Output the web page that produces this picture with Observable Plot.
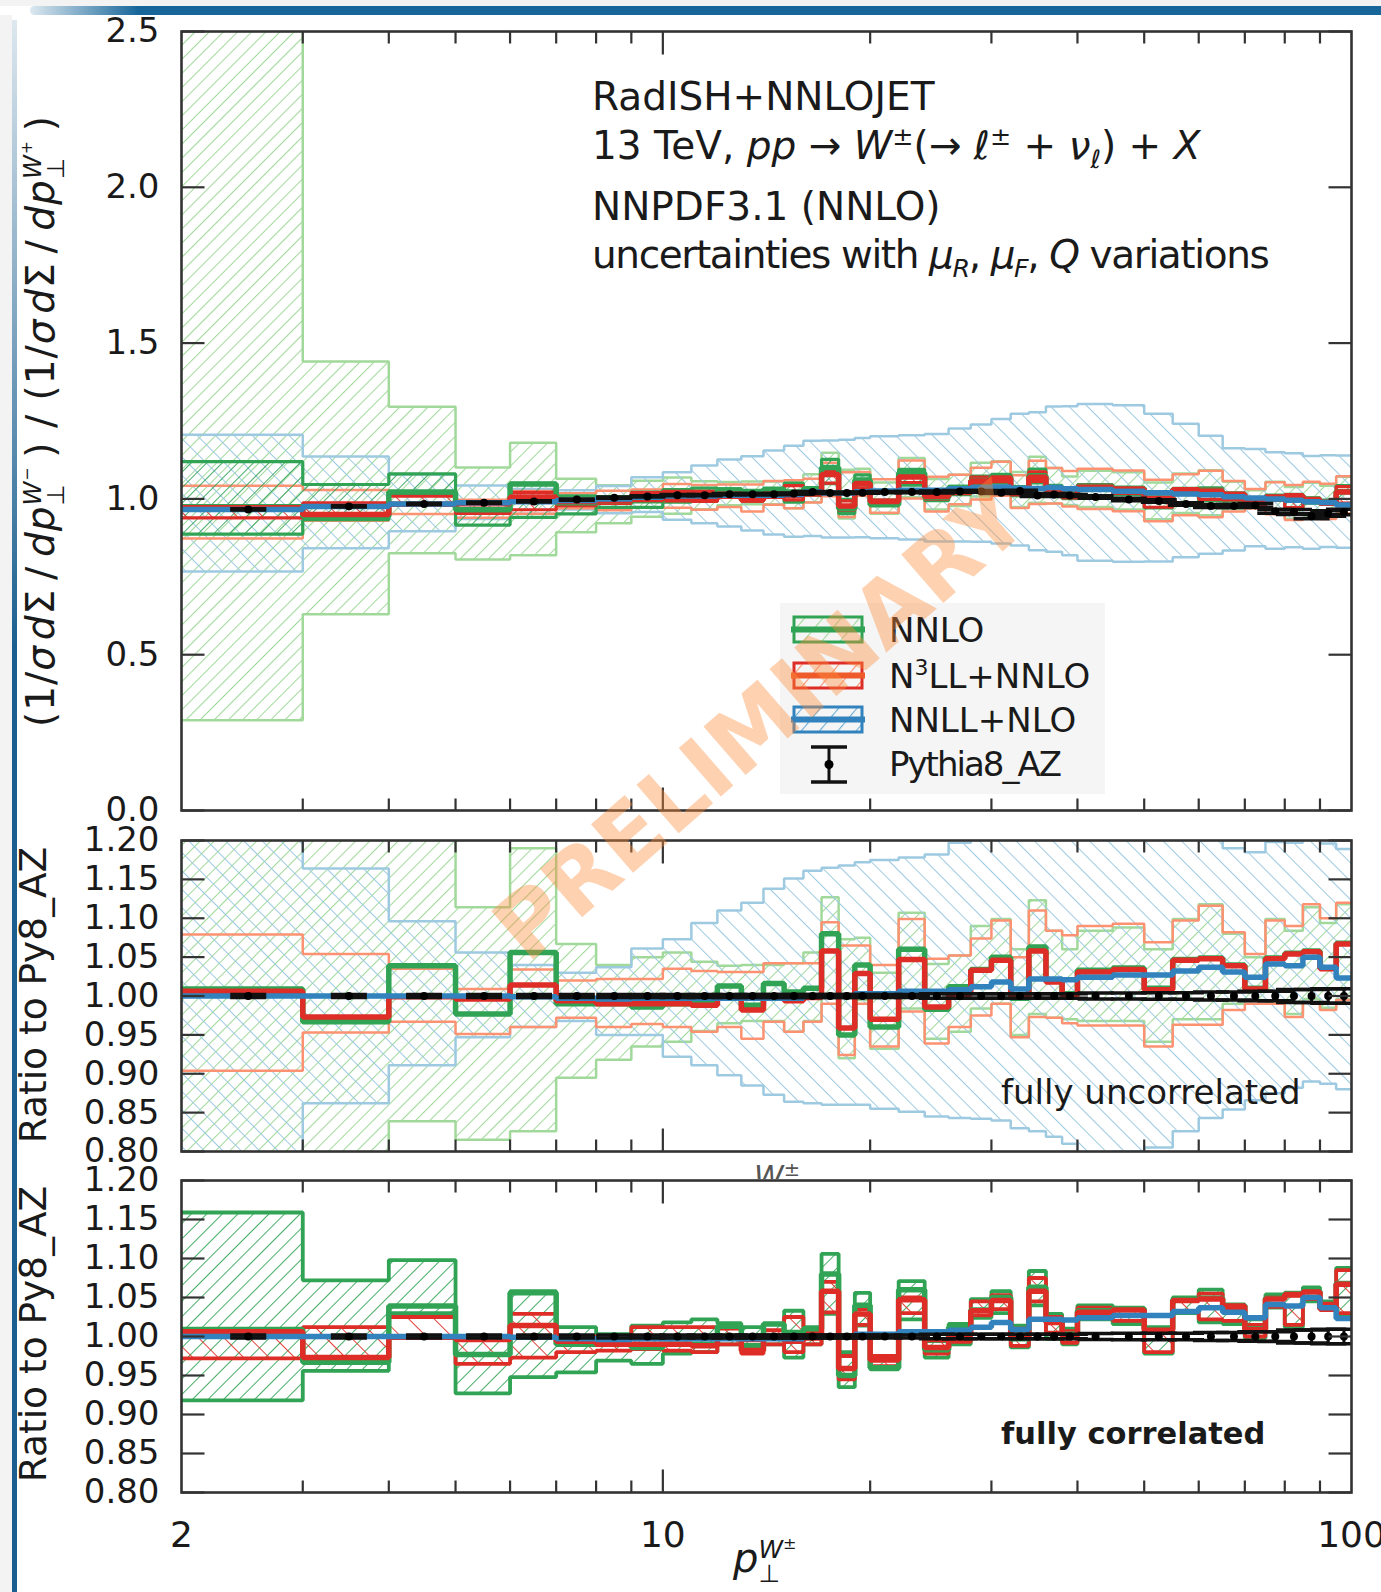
<!DOCTYPE html>
<html>
<head>
<meta charset="utf-8">
<script src="https://cdn.jsdelivr.net/npm/d3@7"></script>
<script src="https://cdn.jsdelivr.net/npm/@observablehq/plot@0.6"></script>
<style>
  html, body { margin: 0; padding: 0; background: #fff; }
  #page { position: relative; width: 1381px; height: 1592px; overflow: hidden; background: #fff;
          font-family: "DejaVu Sans", sans-serif; color: #1a1a1a; }
  .abs { position: absolute; white-space: nowrap; }
  sup, sub { line-height: 0; }
  .ss { display: inline-flex; flex-direction: column; font-size: 0.62em; line-height: 0.95; vertical-align: 0.55em; }
  .ss > span { display: block; }
  .rot { transform: translate(-50%, -50%) rotate(-90deg); }
  sup.s, sub.s { font-size: 0.65em; }
  .ann { font-size: 39px; line-height: 39px; }
  i { font-style: oblique; }
</style>
</head>
<body>
<div id="page">
  <!-- slide decoration -->
  <div class="abs" style="left:0;top:0;width:1381px;height:6px;background:#f3f3f3"></div>
  <div class="abs" style="left:30px;top:6px;width:1351px;height:9px;border-radius:9px 0 0 9px;background:linear-gradient(to right, rgba(23,102,154,0.15), #17669a 8%, #17669a)"></div>
  <div class="abs" style="left:0;top:15px;width:12px;height:1577px;background:#f3f3f3"></div>
  <div class="abs" style="left:12px;top:20px;width:5px;height:1572px;background:linear-gradient(to bottom, rgba(26,95,143,0.15), #1a5f8f 40%, #1a5f8f)"></div>

  <div id="p1" class="abs" style="left:0;top:0"></div>
  <div id="p2" class="abs" style="left:0;top:800px"></div>
  <div id="p3" class="abs" style="left:0;top:1140px"></div>

  <!-- remnant of the middle panel's axis title, covered by the lower panel -->
  <div class="abs" style="left:754px;top:1160px;height:19px;width:60px;overflow:hidden;color:#555;font-size:30px;line-height:34px"><i>W</i><sup class="s">±</sup></div>

  <!-- y-axis titles -->
  <div class="abs rot" style="left:43px;top:421px;font-size:39px;letter-spacing:1px">
    (1/<i>σ</i>&hairsp;<i>d</i>Σ&thinsp;/&thinsp;<i>dp</i><span class="ss"><span><i>W</i><sup class="s">−</sup></span><span>⊥</span></span>&thinsp;)&nbsp;/&nbsp;(1/<i>σ</i>&hairsp;<i>d</i>Σ&thinsp;/&thinsp;<i>dp</i><span class="ss"><span><i>W</i><sup class="s">+</sup></span><span>⊥</span></span>&thinsp;)
  </div>
  <div class="abs rot" style="left:33px;top:995px;font-size:37.5px">Ratio to Py8_AZ</div>
  <div class="abs rot" style="left:33px;top:1334px;font-size:37.5px">Ratio to Py8_AZ</div>

  <!-- x-axis title -->
  <div class="abs" style="left:733px;top:1536px;font-size:40px;line-height:44px"><i>p</i><span class="ss"><span><i>W</i><sup class="s">±</sup></span><span>⊥</span></span></div>

  <!-- process annotation -->
  <div class="abs ann" style="left:592px;top:77px">RadISH+NNLOJET</div>
  <div class="abs ann" style="left:592px;top:126px">13 TeV, <i>pp</i> → <i>W</i><sup class="s">±</sup>(→ <i>ℓ</i><sup class="s">±</sup> + <i>ν</i><sub class="s"><i>ℓ</i></sub>) + <i>X</i></div>
  <div class="abs ann" style="left:592px;top:187px">NNPDF3.1 (NNLO)</div>
  <div class="abs ann" style="left:592px;top:235px;letter-spacing:-1.4px">uncertainties with <i>μ</i><sub class="s"><i>R</i></sub>, <i>μ</i><sub class="s"><i>F</i></sub>, <i>Q</i> variations</div>

  <div class="abs" style="left:1001px;top:1075px;font-size:34px;line-height:34px">fully uncorrelated</div>
  <div class="abs" style="left:1001px;top:1419px;font-size:30.5px;line-height:30px;font-weight:bold">fully correlated</div>

  <!-- legend -->
  <svg id="legend" class="abs" style="left:780px;top:603px" width="325" height="191"></svg>

  <!-- watermark -->
  <div class="abs" style="left:760px;top:722px;transform:translate(-50%,-50%) rotate(-41deg);font-family:'DejaVu Sans';font-weight:bold;font-size:88px;color:rgba(253,141,60,0.40);pointer-events:none">PRELIMINARY</div>
</div>

<script>
// ---- transverse-momentum binning (GeV) ----
const binEdges = [2, 3, 4, 5, 6, 7, 8, 9, 10, 11, 12, 13, 14, 15, 16, 17, 18, 19, 20,
  22, 24, 26, 28, 30, 32, 34, 36, 38, 40, 45, 50, 55, 60, 65, 70, 75, 80, 85, 90, 95, 100];

// ---- Pythia8 AZ: W-/W+ ratio of normalised spectra and its statistical error ----
const pythia = [0.966, 0.976, 0.984, 0.988, 0.992, 0.998, 1.004, 1.008, 1.012, 1.012,
  1.015, 1.015, 1.015, 1.017, 1.022, 1.019, 1.019, 1.020, 1.022, 1.022,
  1.022, 1.024, 1.024, 1.020, 1.025, 1.011, 1.014, 1.011, 1.006, 0.998,
  0.993, 0.984, 0.977, 0.977, 0.979, 0.960, 0.958, 0.944, 0.953, 0.958];
const pythiaErr = [0.002, 0.002, 0.002, 0.002, 0.002, 0.002, 0.002, 0.002, 0.002, 0.002,
  0.002, 0.002, 0.002, 0.002, 0.002, 0.002, 0.002, 0.002, 0.002, 0.002,
  0.003, 0.003, 0.003, 0.003, 0.003, 0.003, 0.003, 0.003, 0.004, 0.004,
  0.004, 0.004, 0.005, 0.005, 0.006, 0.006, 0.008, 0.008, 0.009, 0.009];

// ---- predictions, as ratio to Pythia8 AZ ----
// NNLO
const nnloCentral = [1.009, 0.967, 1.039, 0.977, 1.056, 0.990, 0.990, 0.986, 0.990, 0.990,
  1.013, 0.988, 1.016, 1.005, 1.010, 1.080, 0.950, 1.040, 0.960, 1.060,
  0.983, 1.012, 1.034, 1.050, 0.997, 1.063, 1.020, 1.003, 1.033, 1.036,
  1.010, 1.047, 1.049, 1.040, 1.010, 1.049, 1.055, 1.058, 1.036, 1.068];
const nnloUncLo = [0.300, 0.645, 0.839, 0.815, 0.826, 0.895, 0.918, 0.935, 0.941, 0.955,
  0.965, 0.968, 0.968, 0.954, 0.968, 1.000, 0.920, 0.995, 0.932, 0.984,
  0.945, 0.954, 0.984, 0.990, 0.950, 0.977, 0.972, 0.970, 0.968, 0.968,
  0.941, 0.970, 0.970, 0.990, 0.995, 0.992, 0.977, 0.996, 0.985, 0.996];
const nnloUncHi = [3.000, 1.476, 1.317, 1.114, 1.190, 1.067, 1.040, 1.050, 1.056, 1.044,
  1.039, 1.040, 1.040, 1.042, 1.056, 1.127, 1.073, 1.075, 1.030, 1.107,
  1.041, 1.052, 1.090, 1.099, 1.060, 1.123, 1.084, 1.060, 1.084, 1.088,
  1.060, 1.099, 1.118, 1.080, 1.050, 1.099, 1.084, 1.114, 1.094, 1.118];
const nnloCorLo = [0.918, 0.956, 1.030, 0.927, 0.948, 0.954, 0.969, 0.965, 0.978, 0.980,
  0.990, 0.980, 0.990, 0.973, 0.990, 1.029, 0.935, 1.014, 0.958, 1.022,
  0.973, 0.990, 1.024, 1.030, 0.986, 1.040, 0.997, 0.990, 1.022, 1.016,
  0.978, 1.030, 1.018, 1.016, 0.998, 1.037, 1.012, 1.045, 1.035, 1.025];
const nnloCorHi = [1.159, 1.072, 1.098, 0.997, 1.058, 1.012, 1.003, 1.014, 1.018, 1.022,
  1.017, 1.012, 1.016, 1.033, 1.012, 1.106, 0.980, 1.056, 0.975, 1.071,
  0.994, 1.016, 1.048, 1.058, 1.014, 1.084, 1.029, 1.010, 1.040, 1.036,
  1.012, 1.050, 1.060, 1.035, 1.022, 1.054, 1.056, 1.063, 1.045, 1.088];

// N3LL+NNLO
const n3llCentral = [1.006, 0.973, 0.999, 0.996, 1.014, 0.994, 0.990, 0.990, 0.990, 0.988,
  1.000, 0.982, 1.000, 0.994, 0.998, 1.058, 0.959, 1.029, 0.970, 1.047,
  0.986, 1.002, 1.033, 1.046, 0.999, 1.058, 1.018, 1.001, 1.031, 1.034,
  1.008, 1.046, 1.048, 1.039, 1.009, 1.048, 1.054, 1.057, 1.035, 1.067];
const n3llUncLo = [0.904, 0.953, 0.967, 0.951, 0.960, 0.972, 0.960, 0.964, 0.960, 0.954,
  0.960, 0.945, 0.967, 0.954, 0.967, 0.990, 0.924, 0.990, 0.935, 0.980,
  0.939, 0.960, 0.975, 0.990, 0.947, 0.973, 0.972, 0.965, 0.962, 0.962,
  0.935, 0.963, 0.963, 0.982, 0.990, 0.990, 0.973, 0.992, 0.982, 0.995];
const n3llUncHi = [1.079, 1.054, 1.035, 1.009, 1.034, 1.020, 1.022, 1.022, 1.035, 1.032,
  1.031, 1.031, 1.042, 1.042, 1.042, 1.095, 1.065, 1.065, 1.040, 1.099,
  1.048, 1.052, 1.074, 1.097, 1.050, 1.110, 1.084, 1.078, 1.090, 1.093,
  1.069, 1.097, 1.116, 1.082, 1.054, 1.097, 1.090, 1.118, 1.100, 1.120];
const n3llCorLo = [0.972, 0.969, 0.998, 0.965, 0.973, 0.980, 0.982, 0.984, 0.982, 0.980,
  0.990, 0.978, 0.990, 0.980, 0.990, 1.031, 0.945, 1.015, 0.962, 1.030,
  0.978, 0.993, 1.027, 1.035, 0.988, 1.045, 1.005, 0.992, 1.024, 1.020,
  0.980, 1.032, 1.022, 1.020, 1.000, 1.038, 1.015, 1.048, 1.035, 1.030];
const n3llCorHi = [1.007, 1.012, 1.025, 0.998, 1.029, 1.000, 0.997, 1.012, 1.012, 1.012,
  1.010, 0.995, 1.008, 1.025, 1.006, 1.070, 0.975, 1.035, 0.975, 1.050,
  0.995, 1.012, 1.045, 1.053, 1.010, 1.075, 1.025, 1.007, 1.037, 1.035,
  1.010, 1.048, 1.055, 1.035, 1.015, 1.050, 1.052, 1.058, 1.042, 1.085];

// NNLL+NLO
const nnllCentral = [1.000, 1.000, 1.000, 1.000, 0.999, 0.997, 0.996, 0.997, 0.997, 0.997,
  0.997, 0.997, 0.997, 0.997, 1.000, 1.000, 1.000, 1.003, 1.003, 1.006,
  1.006, 1.008, 1.012, 1.018, 1.009, 1.022, 1.022, 1.021, 1.024, 1.027,
  1.027, 1.032, 1.037, 1.031, 1.024, 1.041, 1.039, 1.050, 1.037, 1.023];
const nnllUncLo = [0.794, 0.862, 0.911, 0.947, 0.960, 0.968, 0.950, 0.950, 0.922, 0.911,
  0.898, 0.885, 0.873, 0.864, 0.862, 0.860, 0.860, 0.860, 0.855, 0.851,
  0.845, 0.843, 0.842, 0.840, 0.830, 0.826, 0.819, 0.810, 0.797, 0.800,
  0.805, 0.826, 0.843, 0.854, 0.866, 0.875, 0.882, 0.890, 0.887, 0.880];
const nnllUncHi = [1.248, 1.164, 1.096, 1.056, 1.040, 1.030, 1.037, 1.061, 1.073, 1.094,
  1.110, 1.120, 1.138, 1.151, 1.161, 1.165, 1.168, 1.172, 1.175, 1.178,
  1.182, 1.197, 1.210, 1.232, 1.242, 1.264, 1.279, 1.283, 1.297, 1.303,
  1.282, 1.261, 1.231, 1.190, 1.185, 1.198, 1.197, 1.205, 1.196, 1.189];

// ---- axis ticks ----
const majorX = [10];
const minorX = [3, 4, 5, 6, 7, 8, 9, 20, 30, 40, 50, 60, 70, 80, 90];
const xTickLabels = [2, 10, 100];
const yTicksTop = [0, 0.5, 1.0, 1.5, 2.0, 2.5];
const yTicksRatio = [0.80, 0.85, 0.90, 0.95, 1.00, 1.05, 1.10, 1.15, 1.20];

// ---- colours ----
const C = {
  green: "#31a354", lgreen: "#a1d99b",
  red: "#de2d26", salmon: "#fc9272",
  blue: "#3182bd", lblue: "#9ecae1",
  axis: "#333333"
};
const FONT = "DejaVu Sans";

// ---- helpers: step rows for histogram-like lines and bands ----
const stepRows = vals => vals.flatMap((v, i) => [{x: binEdges[i], y: v}, {x: binEdges[i + 1], y: v}]);
const bandRows = (lo, hi) => lo.flatMap((l, i) => [
  {x: binEdges[i], y1: l, y2: hi[i]}, {x: binEdges[i + 1], y1: l, y2: hi[i]}]);
const times = (arr, k) => arr.map((v, i) => v * k[i]);

function bandMarks(lo, hi, fill, stroke, sw) {
  const rows = bandRows(lo, hi);
  const lineOpts = {x: "x", stroke, strokeWidth: sw, strokeLinejoin: "miter", strokeLinecap: "butt", clip: true};
  return [
    Plot.areaY(rows, {x: "x", y1: "y1", y2: "y2", fill, clip: true}),
    Plot.line(rows, {...lineOpts, y: "y1"}),
    Plot.line(rows, {...lineOpts, y: "y2"})
  ];
}
const stepLine = (vals, stroke, sw) =>
  Plot.line(stepRows(vals), {x: "x", y: "y", stroke, strokeWidth: sw, strokeLinejoin: "miter", strokeLinecap: "butt", clip: true});

// horizontal cap and inward tick glyphs, sized through the dot radius
const capSym = {draw(ctx, size) { const w = Math.sqrt(size / Math.PI); ctx.moveTo(-w, 0); ctx.lineTo(w, 0); }};
const tickSym = (dx, dy) => ({draw(ctx, size) {
  const L = Math.sqrt(size / Math.PI); ctx.moveTo(0, 0); ctx.lineTo(dx * L, dy * L); }});

function pythiaMarks(rows) {
  return [
    Plot.ruleX(rows, {x: "x", y1: "lo", y2: "hi", stroke: "#111", strokeWidth: 3, clip: true}),
    Plot.dot(rows, {x: "x", y: "lo", symbol: capSym, r: 18, stroke: "#111", strokeWidth: 3.5, fill: "none", clip: true}),
    Plot.dot(rows, {x: "x", y: "hi", symbol: capSym, r: 18, stroke: "#111", strokeWidth: 3.5, fill: "none", clip: true}),
    Plot.dot(rows, {x: "x", y: "y", r: 4, fill: "#000", stroke: "none", clip: true})
  ];
}

function frameMarks(yDomain, yTicks, yFmt, withXLabels) {
  const [ylo, yhi] = yDomain;
  const tk = {stroke: C.axis, strokeWidth: 2.2, fill: "none"};
  const marks = [
    Plot.frame({stroke: C.axis, strokeWidth: 2.6}),
    Plot.dot(majorX, {x: d => d, y: yhi, symbol: tickSym(0, 1), r: 23, ...tk}),
    Plot.dot(majorX, {x: d => d, y: ylo, symbol: tickSym(0, -1), r: 23, ...tk}),
    Plot.dot(minorX, {x: d => d, y: yhi, symbol: tickSym(0, 1), r: 12, ...tk}),
    Plot.dot(minorX, {x: d => d, y: ylo, symbol: tickSym(0, -1), r: 12, ...tk}),
    Plot.dot(yTicks, {x: 2, y: d => d, symbol: tickSym(1, 0), r: 23, ...tk}),
    Plot.dot(yTicks, {x: 100, y: d => d, symbol: tickSym(-1, 0), r: 23, ...tk}),
    Plot.text(yTicks, {x: 2, y: d => d, text: yFmt, textAnchor: "end", dx: -22,
      fontSize: 34, fontFamily: FONT, fill: "#1a1a1a"})
  ];
  if (withXLabels) {
    marks.push(Plot.text(xTickLabels, {x: d => d, y: ylo, text: d => String(d), dy: 43,
      fontSize: 36, fontFamily: FONT, fill: "#1a1a1a"}));
  }
  return marks;
}

// hatch patterns, one set per svg
function addPatterns(svg, prefix) {
  const defs = d3.select(svg).insert("defs", ":first-child");
  const specs = [
    ["lg", C.lgreen, 45, 10, 2.1],
    ["lb", C.lblue, -45, 13, 2.0],
    ["dg", C.green, 45, 11, 1.8],
    ["dr", C.red, -45, 18, 1.8]
  ];
  for (const [name, color, angle, gap, w] of specs) {
    const p = defs.append("pattern").attr("id", `${prefix}-${name}`)
      .attr("patternUnits", "userSpaceOnUse").attr("width", gap).attr("height", gap)
      .attr("patternTransform", `rotate(${angle})`);
    p.append("line").attr("x1", 0).attr("y1", 0).attr("x2", 0).attr("y2", gap)
      .attr("stroke", color).attr("stroke-width", w);
  }
}

function makePanel(el, prefix, cfg) {
  const svg = Plot.plot({
    width: 1381, height: cfg.marginTop + cfg.plotHeight + cfg.marginBottom,
    marginLeft: 181, marginRight: 30, marginTop: cfg.marginTop, marginBottom: cfg.marginBottom,
    x: {type: "log", domain: [2, 100], axis: null},
    y: {domain: cfg.yDomain, axis: null},
    style: {background: "transparent", overflow: "visible", fontFamily: FONT},
    marks: [...cfg.marks(prefix), ...frameMarks(cfg.yDomain, cfg.yTicks, cfg.yFmt, cfg.xLabels)]
  });
  addPatterns(svg, prefix);
  document.getElementById(el).appendChild(svg);
}

const centers = binEdges.slice(0, -1).map((e, i) => (e + binEdges[i + 1]) / 2);
const pyAbs = pythia.map((v, i) => ({x: centers[i], y: v, lo: v - pythiaErr[i], hi: v + pythiaErr[i]}));
const pyRatio = pythia.map((v, i) => ({x: centers[i], y: 1, lo: 1 - pythiaErr[i] / v, hi: 1 + pythiaErr[i] / v}));

// ---- top panel: W-/W+ ratio ----
makePanel("p1", "a", {
  marginTop: 31, plotHeight: 779, marginBottom: 10,
  yDomain: [0, 2.5], yTicks: yTicksTop, yFmt: d => d.toFixed(1), xLabels: false,
  marks: p => [
    ...bandMarks(times(nnloUncLo, pythia), times(nnloUncHi, pythia), `url(#${p}-lg)`, C.lgreen, 2.5),
    ...bandMarks(times(nnllUncLo, pythia), times(nnllUncHi, pythia), `url(#${p}-lb)`, C.lblue, 2.5),
    ...bandMarks(times(n3llUncLo, pythia), times(n3llUncHi, pythia), "none", C.salmon, 2.5),
    ...bandMarks(times(nnloCorLo, pythia), times(nnloCorHi, pythia), `url(#${p}-dg)`, C.green, 3.2),
    ...bandMarks(times(n3llCorLo, pythia), times(n3llCorHi, pythia), `url(#${p}-dr)`, C.red, 3.2),
    stepLine(times(nnloCentral, pythia), C.green, 5.5),
    stepLine(times(n3llCentral, pythia), C.red, 5.5),
    stepLine(times(nnllCentral, pythia), C.blue, 5.5),
    ...pythiaMarks(pyAbs)
  ]
});

// ---- middle panel: ratio to Pythia, uncorrelated scale variations ----
makePanel("p2", "b", {
  marginTop: 40, plotHeight: 311, marginBottom: 10,
  yDomain: [0.8, 1.2], yTicks: yTicksRatio, yFmt: d => d.toFixed(2), xLabels: false,
  marks: p => [
    ...bandMarks(nnloUncLo, nnloUncHi, `url(#${p}-lg)`, C.lgreen, 2.5),
    ...bandMarks(nnllUncLo, nnllUncHi, `url(#${p}-lb)`, C.lblue, 2.5),
    ...bandMarks(n3llUncLo, n3llUncHi, "none", C.salmon, 2.5),
    stepLine(nnloCentral, C.green, 5.5),
    stepLine(n3llCentral, C.red, 5.5),
    stepLine(nnllCentral, C.blue, 5.5),
    ...pythiaMarks(pyRatio)
  ]
});

// ---- bottom panel: ratio to Pythia, correlated scale variations ----
makePanel("p3", "c", {
  marginTop: 40, plotHeight: 312, marginBottom: 100,
  yDomain: [0.8, 1.2], yTicks: yTicksRatio, yFmt: d => d.toFixed(2), xLabels: true,
  marks: p => [
    ...bandMarks(nnloCorLo, nnloCorHi, `url(#${p}-dg)`, C.green, 3.8),
    ...bandMarks(n3llCorLo, n3llCorHi, `url(#${p}-dr)`, C.red, 3.8),
    stepLine(nnloCentral, C.green, 5.5),
    stepLine(n3llCentral, C.red, 5.5),
    stepLine(nnllCentral, C.blue, 5.5),
    ...pythiaMarks(pyRatio)
  ]
});

// ---- legend ----
(function legend() {
  const svg = d3.select("#legend");
  svg.append("rect").attr("width", 325).attr("height", 191).attr("fill", "#f5f5f5");
  const defs = svg.append("defs");
  const entries = [
    {label: "NNLO", edge: C.green, hatch: C.lgreen, mid: C.green},
    {label: "N3LL+NNLO", edge: C.red, hatch: C.salmon, mid: "#ee5a2a"},
    {label: "NNLL+NLO", edge: C.blue, hatch: "#6baed6", mid: C.blue}
  ];
  const rowTop = [14, 60, 104];
  const textX = 109;
  entries.forEach((e, i) => {
    const id = `leg-h${i}`;
    const p = defs.append("pattern").attr("id", id).attr("patternUnits", "userSpaceOnUse")
      .attr("width", 14).attr("height", 14).attr("patternTransform", "rotate(40)");
    p.append("line").attr("x1", 0).attr("y1", 0).attr("x2", 0).attr("y2", 14)
      .attr("stroke", e.hatch).attr("stroke-width", 2.2);
    const y = rowTop[i];
    svg.append("rect").attr("x", 14).attr("y", y).attr("width", 68).attr("height", 25)
      .attr("fill", `url(#${id})`).attr("stroke", e.edge).attr("stroke-width", 3);
    svg.append("line").attr("x1", 11).attr("x2", 85).attr("y1", y + 12.5).attr("y2", y + 12.5)
      .attr("stroke", e.mid).attr("stroke-width", 6);
    const t = svg.append("text").attr("x", textX).attr("y", y + 25).attr("font-size", 34)
      .attr("font-family", FONT).attr("fill", "#1a1a1a");
    if (e.label === "N3LL+NNLO") {
      t.append("tspan").text("N");
      t.append("tspan").attr("dy", -13).attr("font-size", 22).text("3");
      t.append("tspan").attr("dy", 13).text("LL+NNLO");
    } else {
      t.text(e.label);
    }
  });
  // Pythia8_AZ marker
  const cx = 49, y0 = 144, y1 = 179;
  svg.append("line").attr("x1", cx).attr("x2", cx).attr("y1", y0).attr("y2", y1).attr("stroke", "#111").attr("stroke-width", 3);
  svg.append("line").attr("x1", cx - 18).attr("x2", cx + 18).attr("y1", y0).attr("y2", y0).attr("stroke", "#111").attr("stroke-width", 3.5);
  svg.append("line").attr("x1", cx - 18).attr("x2", cx + 18).attr("y1", y1).attr("y2", y1).attr("stroke", "#111").attr("stroke-width", 3.5);
  svg.append("circle").attr("cx", cx).attr("cy", (y0 + y1) / 2).attr("r", 4.5).attr("fill", "#000");
  svg.append("text").attr("x", textX).attr("y", 173).attr("font-size", 34).attr("font-family", FONT)
    .attr("letter-spacing", -2).attr("fill", "#1a1a1a").text("Pythia8_AZ");
})();
</script>
</body>
</html>
